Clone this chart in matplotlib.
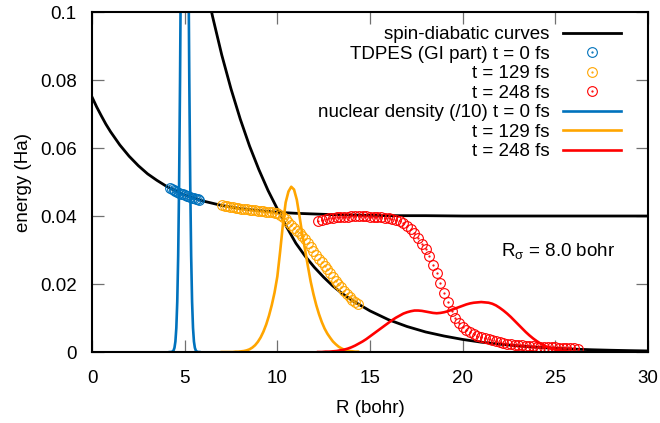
import matplotlib
matplotlib.use('Agg')
import matplotlib.pyplot as plt
from matplotlib.legend_handler import HandlerTuple

plt.rcParams['font.family'] = ['Liberation Sans', 'DejaVu Sans']
plt.rcParams['font.size'] = 13.5
plt.rcParams['mathtext.fontset'] = 'custom'
plt.rcParams['mathtext.rm'] = 'Liberation Sans'
plt.rcParams['mathtext.it'] = 'Liberation Sans:italic'

BLUE = '#0072bd'
ORANGE = '#ffa500'
RED = '#ff0000'

# curvas diabaticas
r_a = [0, 0.25, 0.5, 0.75, 1, 1.5, 2, 2.5, 3, 3.5, 4, 4.5, 5, 5.5, 6, 7, 8, 9,
       10, 11, 12, 13, 14, 15, 16, 18, 20, 22, 25, 30]
e_a = [0.0750, 0.0721, 0.0695, 0.0670, 0.0648, 0.0609, 0.0576, 0.0548, 0.0524,
       0.0505, 0.0488, 0.0474, 0.0462, 0.0453, 0.0444, 0.0431, 0.0422, 0.0416,
       0.0411, 0.0408, 0.0406, 0.0404, 0.0403, 0.0402, 0.0401, 0.0401, 0.0400,
       0.0400, 0.0400, 0.0400]

r_b = [6.0, 6.5, 7.0, 7.5, 8.0, 8.5, 9.0, 9.5, 10.0, 10.5, 11.0, 11.5, 12.0,
       12.5, 13.0, 13.5, 14.0, 15.0, 16.0, 17.0, 18.0, 19.0, 20.0, 21.0, 22.0,
       23.0, 24.0, 25.0, 26.0, 27.0, 28.0, 29.0, 30.0]
e_b = [0.1116, 0.0988, 0.0874, 0.0774, 0.0685, 0.0606, 0.0537, 0.0475, 0.0421,
       0.0368, 0.0320, 0.0282, 0.0249, 0.0220, 0.0194, 0.0172, 0.0153, 0.0121,
       0.0095, 0.0075, 0.0059, 0.0047, 0.0037, 0.0029, 0.0023, 0.0018, 0.0014,
       0.0011, 0.00085, 0.00066, 0.00052, 0.00041, 0.00032]

# t = 0 fs
r_0 = [4.2, 4.3, 4.4, 4.5, 4.6, 4.7, 4.8, 4.9, 5.0, 5.1, 5.2, 5.3, 5.4, 5.5,
       5.6, 5.7, 5.8]
tdpes_0 = [0.0482, 0.0479, 0.0476, 0.0474, 0.0471, 0.0469, 0.0466, 0.0464,
           0.0462, 0.0460, 0.0458, 0.0456, 0.0454, 0.0452, 0.0451, 0.0449,
           0.0448]
r_0d = [4.2, 4.25, 4.3, 4.35, 4.4, 4.45, 4.5, 4.55, 4.6, 4.65, 4.7, 4.75, 4.8,
        4.85, 4.9, 4.95, 5.0, 5.05, 5.1, 5.15, 5.2, 5.25, 5.3, 5.35, 5.4, 5.45,
        5.5, 5.55, 5.6, 5.65, 5.7, 5.75, 5.8]
dens_0 = [0.0, 0.00001, 0.00005, 0.00016, 0.00046, 0.00125, 0.0031, 0.0071,
          0.0148, 0.0283, 0.0496, 0.0797, 0.118, 0.159, 0.198, 0.225, 0.235,
          0.225, 0.198, 0.159, 0.118, 0.0797, 0.0496, 0.0283, 0.0148, 0.0071,
          0.0031, 0.00125, 0.00046, 0.00016, 0.00005, 0.00001, 0.0]

# t = 129 fs
r_129 = [7.0, 7.15, 7.3, 7.45, 7.6, 7.75, 7.9, 8.05, 8.2, 8.35, 8.5, 8.65, 8.8,
         8.95, 9.1, 9.25, 9.4, 9.55, 9.7, 9.85, 10.0, 10.15, 10.3, 10.45, 10.6,
         10.75, 10.9, 11.05, 11.2, 11.35, 11.5, 11.65, 11.8, 11.95, 12.1,
         12.25, 12.4, 12.55, 12.7, 12.85, 13.0, 13.15, 13.3, 13.45, 13.6,
         13.75, 13.9, 14.05, 14.2, 14.35]
tdpes_129 = [0.0431, 0.0430, 0.0428, 0.0427, 0.0426, 0.0424, 0.0423, 0.0422,
             0.0421, 0.0420, 0.0419, 0.0418, 0.0417, 0.0416, 0.0415, 0.0414,
             0.0413, 0.0412, 0.0411, 0.0410, 0.0408, 0.0404, 0.0397, 0.0390,
             0.0382, 0.0374, 0.0365, 0.0357, 0.0349, 0.0340, 0.0331, 0.0320,
             0.0308, 0.0297, 0.0286, 0.0275, 0.0264, 0.0253, 0.0243, 0.0233,
             0.0222, 0.0210, 0.0199, 0.0190, 0.0180, 0.0171, 0.0162, 0.0153,
             0.0146, 0.0142]
dens_129 = [0.0, 0.0, 0.0, 0.0, 0.0, 0.0001, 0.0001, 0.0002, 0.0003, 0.0005,
            0.0008, 0.0013, 0.0020, 0.0030, 0.0043, 0.0060, 0.0081, 0.0107,
            0.0138, 0.0175, 0.0222, 0.0295, 0.0375, 0.0440, 0.0472, 0.0486,
            0.0478, 0.0448, 0.0398, 0.0345, 0.0300, 0.0252, 0.0207, 0.0170,
            0.0138, 0.0111, 0.0088, 0.0069, 0.0054, 0.0042, 0.0031, 0.0023,
            0.0016, 0.0011, 0.0007, 0.0005, 0.0003, 0.0002, 0.0001, 0.0001]

# t = 248 fs
r_248 = [12.2, 12.4, 12.6, 12.8, 13.0, 13.2, 13.4, 13.6, 13.8, 14.0, 14.2,
         14.4, 14.6, 14.8, 15.0, 15.2, 15.4, 15.6, 15.8, 16.0, 16.2, 16.4,
         16.6, 16.8, 17.0, 17.2, 17.4, 17.6, 17.8, 18.0, 18.2, 18.4, 18.6,
         18.8, 19.0, 19.2, 19.4, 19.6, 19.8, 20.0, 20.2, 20.4, 20.6, 20.8,
         21.0, 21.2, 21.4, 21.6, 21.8, 22.0, 22.2, 22.4, 22.6, 22.8, 23.0,
         23.2, 23.4, 23.6, 23.8, 24.0, 24.2, 24.4, 24.6, 24.8, 25.0, 25.2,
         25.4, 25.6, 25.8, 26.0, 26.2]
tdpes_248 = [0.0386, 0.0389, 0.0391, 0.0393, 0.0395, 0.0396, 0.0397, 0.0398,
             0.0398, 0.0399, 0.0399, 0.0399, 0.0399, 0.0399, 0.0398, 0.0398,
             0.0397, 0.0396, 0.0395, 0.0393, 0.0391, 0.0388, 0.0384, 0.0378,
             0.0371, 0.0362, 0.0350, 0.0335, 0.0318, 0.0302, 0.0281, 0.0257,
             0.0231, 0.0203, 0.0175, 0.0147, 0.0122, 0.0101, 0.0086, 0.0075,
             0.0066, 0.0059, 0.0053, 0.0048, 0.0044, 0.0040, 0.0037, 0.0034,
             0.0032, 0.0029, 0.0027, 0.0025, 0.0024, 0.0022, 0.0021, 0.0020,
             0.0019, 0.0018, 0.0017, 0.0016, 0.0016, 0.0015, 0.0015, 0.0014,
             0.0014, 0.0013, 0.0012, 0.0012, 0.0011, 0.0011, 0.0010]
dens_248 = [0.0, 0.0, 0.0001, 0.0001, 0.0002, 0.0003, 0.0005, 0.0007, 0.0010,
            0.0014, 0.0019, 0.0025, 0.0031, 0.0038, 0.0046, 0.0054, 0.0062,
            0.0070, 0.0078, 0.0086, 0.0094, 0.0101, 0.0107, 0.0113, 0.0117,
            0.0120, 0.0122, 0.0122, 0.0121, 0.0119, 0.0117, 0.0115, 0.0114,
            0.0115, 0.0117, 0.0120, 0.0124, 0.0128, 0.0132, 0.0136, 0.0140,
            0.0143, 0.0145, 0.0146, 0.0147, 0.0146, 0.0145, 0.0142, 0.0137,
            0.0130, 0.0122, 0.0113, 0.0103, 0.0092, 0.0081, 0.0070, 0.0059,
            0.0049, 0.0040, 0.0032, 0.0025, 0.0019, 0.0014, 0.0010, 0.0007,
            0.0005, 0.0003, 0.0002, 0.0001, 0.0001, 0.0]

x_ticks = [0, 5, 10, 15, 20, 25, 30]
y_ticks = [0, 0.02, 0.04, 0.06, 0.08, 0.1]
y_labels = ['0', '0.02', '0.04', '0.06', '0.08', '0.1']


fig = plt.figure(figsize=(6.6, 4.23), dpi=100)
ax = fig.add_axes([0.1394, 0.1678, 0.8424, 0.8038])

l_diab, = ax.plot(r_a, e_a, color='black', lw=2.0)
ax.plot(r_b, e_b, color='black', lw=2.0)


def puntos(r, e, color):
    c, = ax.plot(r, e, 'o', ms=7, mfc='none', mec=color, mew=0.8, ls='none')
    d, = ax.plot(r, e, '.', ms=1.2, color=color, ls='none')
    return (c, d)


p0 = puntos(r_0, tdpes_0, BLUE)
p129 = puntos(r_129, tdpes_129, ORANGE)
p248 = puntos(r_248, tdpes_248, RED)

d0, = ax.plot(r_0d, dens_0, color=BLUE, lw=1.9)
d129, = ax.plot(r_129, dens_129, color=ORANGE, lw=1.9)
d248, = ax.plot(r_248, dens_248, color=RED, lw=1.9)

ax.set_xlim(0, 30)
ax.set_ylim(0, 0.1)
ax.set_xticks(x_ticks)
ax.set_yticks(y_ticks, y_labels)
ax.tick_params(direction='in', length=8.5, width=0.9, color='#707070',
               top=True, right=True)
ax.tick_params(axis='x', pad=13)
ax.tick_params(axis='y', pad=11)
for s in ax.spines.values():
    s.set_linewidth(1.5)

ax.set_xlabel('R (bohr)', labelpad=9)
ax.set_ylabel('energy (Ha)', labelpad=6)

ax.text(25.15, 0.0297, r'R$_\mathrm{\sigma}$ = 8.0 bohr', ha='center', va='center')

handles = [l_diab, p0, p129, p248, d0, d129, d248]
labels = ['spin-diabatic curves', 'TDPES (GI part) t = 0 fs', 't = 129 fs',
          't = 248 fs', 'nuclear density (/10) t = 0 fs', 't = 129 fs',
          't = 248 fs']
ax.legend(handles, labels, loc='upper right', bbox_to_anchor=(0.951, 0.959),
          frameon=False, markerfirst=False, handlelength=3.1,
          handletextpad=0.7, labelspacing=0.13, borderpad=0, borderaxespad=0,
          numpoints=1, handler_map={tuple: HandlerTuple(ndivide=1)})

fig.savefig('out.png', dpi=100)
